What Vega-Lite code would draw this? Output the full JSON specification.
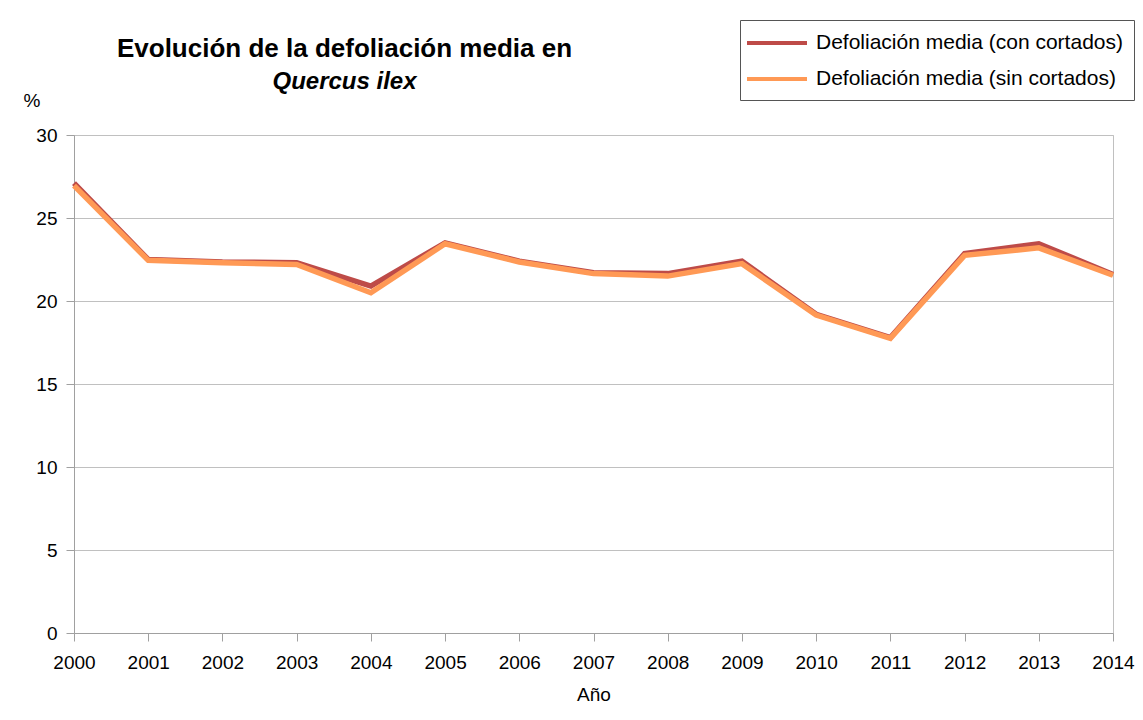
{
  "$schema": "https://vega.github.io/schema/vega-lite/v6.json",
  "width": 1039,
  "height": 498,
  "autosize": {"type": "none"},
  "padding": {"left": 74, "top": 135, "right": 30, "bottom": 87},
  "background": "white",
  "title": {
    "text": "Evolución de la defoliación media en",
    "subtitle": "Quercus ilex\u2003\u2003\u2003\u2003\u2003",
    "anchor": "middle",
    "frame": "group",
    "dx": -249,
    "offset": -74,
    "font": "Liberation Sans",
    "fontSize": 26,
    "fontWeight": "bold",
    "color": "black",
    "subtitleFont": "Liberation Sans",
    "subtitleFontSize": 24,
    "subtitleFontWeight": "bold",
    "subtitleFontStyle": "italic",
    "subtitleColor": "black",
    "subtitlePadding": 8
  },
  "data": {
    "values": [
      {"year": "2000", "serie": "Defoliación media (con cortados)", "value": 27.1},
      {"year": "2001", "serie": "Defoliación media (con cortados)", "value": 22.5},
      {"year": "2002", "serie": "Defoliación media (con cortados)", "value": 22.35},
      {"year": "2003", "serie": "Defoliación media (con cortados)", "value": 22.3},
      {"year": "2004", "serie": "Defoliación media (con cortados)", "value": 20.9},
      {"year": "2005", "serie": "Defoliación media (con cortados)", "value": 23.5},
      {"year": "2006", "serie": "Defoliación media (con cortados)", "value": 22.4},
      {"year": "2007", "serie": "Defoliación media (con cortados)", "value": 21.7},
      {"year": "2008", "serie": "Defoliación media (con cortados)", "value": 21.65},
      {"year": "2009", "serie": "Defoliación media (con cortados)", "value": 22.4},
      {"year": "2010", "serie": "Defoliación media (con cortados)", "value": 19.2},
      {"year": "2011", "serie": "Defoliación media (con cortados)", "value": 17.8},
      {"year": "2012", "serie": "Defoliación media (con cortados)", "value": 22.85},
      {"year": "2013", "serie": "Defoliación media (con cortados)", "value": 23.45},
      {"year": "2014", "serie": "Defoliación media (con cortados)", "value": 21.6},
      {"year": "2000", "serie": "Defoliación media (sin cortados)", "value": 26.95},
      {"year": "2001", "serie": "Defoliación media (sin cortados)", "value": 22.45},
      {"year": "2002", "serie": "Defoliación media (sin cortados)", "value": 22.3},
      {"year": "2003", "serie": "Defoliación media (sin cortados)", "value": 22.2},
      {"year": "2004", "serie": "Defoliación media (sin cortados)", "value": 20.5},
      {"year": "2005", "serie": "Defoliación media (sin cortados)", "value": 23.45},
      {"year": "2006", "serie": "Defoliación media (sin cortados)", "value": 22.35},
      {"year": "2007", "serie": "Defoliación media (sin cortados)", "value": 21.65},
      {"year": "2008", "serie": "Defoliación media (sin cortados)", "value": 21.5},
      {"year": "2009", "serie": "Defoliación media (sin cortados)", "value": 22.25},
      {"year": "2010", "serie": "Defoliación media (sin cortados)", "value": 19.15},
      {"year": "2011", "serie": "Defoliación media (sin cortados)", "value": 17.75},
      {"year": "2012", "serie": "Defoliación media (sin cortados)", "value": 22.75},
      {"year": "2013", "serie": "Defoliación media (sin cortados)", "value": 23.2},
      {"year": "2014", "serie": "Defoliación media (sin cortados)", "value": 21.55}
    ]
  },
  "mark": {"type": "line", "strokeWidth": 5.5, "strokeJoin": "miter"},
  "encoding": {
    "x": {
      "field": "year",
      "type": "ordinal",
      "scale": {"type": "point", "padding": 0},
      "axis": {
        "title": "Año",
        "labelAngle": 0,
        "grid": false,
        "domainColor": "#A0A0A0",
        "tickColor": "#A0A0A0",
        "tickSize": 8,
        "labelFont": "Liberation Sans",
        "labelFontSize": 19,
        "labelColor": "black",
        "labelPadding": 12,
        "titleFont": "Liberation Sans",
        "titleFontSize": 19,
        "titleFontWeight": "normal",
        "titleColor": "black",
        "titlePadding": 13
      }
    },
    "y": {
      "field": "value",
      "type": "quantitative",
      "scale": {"domain": [0, 30]},
      "axis": {
        "title": "%",
        "titleAngle": 0,
        "titleX": -51,
        "titleY": -35,
        "titleAlign": "left",
        "titleBaseline": "middle",
        "titleFont": "Liberation Sans",
        "titleFontSize": 19,
        "titleFontWeight": "normal",
        "titleColor": "black",
        "values": [0, 5, 10, 15, 20, 25, 30],
        "gridColor": "#C0C0C0",
        "domainColor": "#A0A0A0",
        "tickColor": "#A0A0A0",
        "tickSize": 8,
        "labelFont": "Liberation Sans",
        "labelFontSize": 19,
        "labelColor": "black",
        "labelPadding": 9
      }
    },
    "color": {
      "field": "serie",
      "type": "nominal",
      "scale": {
        "domain": ["Defoliación media (con cortados)", "Defoliación media (sin cortados)"],
        "range": ["#BE4B48", "#FF9955"]
      },
      "legend": {
        "title": null,
        "orient": "none",
        "legendX": 666,
        "legendY": -115,
        "strokeColor": "#555555",
        "fillColor": "white",
        "padding": 11,
        "symbolType": "M-3,0H3",
        "symbolSize": 400,
        "symbolStrokeWidth": 4,
        "symbolOffset": 14,
        "labelOffset": 27,
        "labelLimit": 500,
        "labelFont": "Liberation Sans",
        "labelFontSize": 21,
        "labelColor": "black",
        "rowPadding": 14
      }
    }
  },
  "config": {
    "view": {"stroke": "#C0C0C0"}
  }
}
